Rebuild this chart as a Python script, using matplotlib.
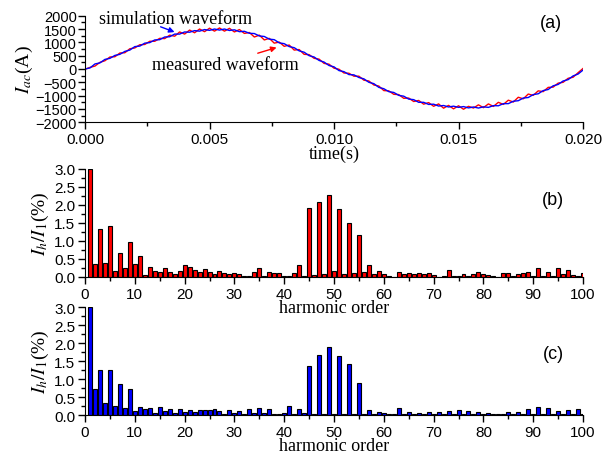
import numpy as np
import matplotlib
matplotlib.use("Agg")
import matplotlib.pyplot as plt
from matplotlib.ticker import MultipleLocator, FormatStrFormatter

plt.rcParams['font.family'] = ['Liberation Sans', 'DejaVu Sans']
plt.rcParams['mathtext.fontset'] = 'stix'

# (a) waveforms, read every 0.2 ms
t = np.linspace(0, 0.02, 101)
i_sim = [0, 40, 190, 230, 360, 400, 510, 550, 660, 710,
         840, 860, 970, 990, 1090, 1100, 1200, 1210, 1310, 1310,
         1390, 1380, 1440, 1420, 1480, 1450, 1500, 1460, 1500, 1445,
         1470, 1400, 1415, 1340, 1330, 1240, 1220, 1120, 1100, 980,
         950, 840, 800, 680, 630, 500, 450, 320, 260, 130,
         80, -60, -100, -210, -220, -320, -370, -500, -550, -690,
         -740, -850, -880, -990, -1020, -1130, -1150, -1250, -1250, -1330,
         -1320, -1390, -1370, -1425, -1395, -1440, -1410, -1460, -1425, -1465,
         -1420, -1440, -1375, -1380, -1300, -1300, -1210, -1190, -1090, -1070,
         -960, -930, -810, -770, -630, -580, -450, -400, -260, -190,
         -40]
i_meas = [-10, 60, 110, 250, 310, 450, 460, 600, 610, 760,
          790, 910, 920, 1040, 1040, 1150, 1140, 1270, 1230, 1390,
          1310, 1460, 1360, 1500, 1400, 1530, 1420, 1540, 1420, 1525,
          1390, 1480, 1335, 1370, 1200, 1270, 1090, 1150, 970, 1010,
          850, 900, 710, 730, 550, 540, 400, 370, 210, 180,
          30, -10, -150, -160, -270, -270, -420, -450, -600, -640,
          -810, -820, -950, -960, -1100, -1090, -1220, -1180, -1320, -1260,
          -1400, -1310, -1470, -1365, -1495, -1380, -1510, -1400, -1465, -1345,
          -1450, -1310, -1405, -1250, -1330, -1170, -1240, -1060, -1120, -940,
          -990, -820, -850, -690, -680, -530, -500, -350, -310, -140,
          20]

# (b), (c) harmonic spectra, orders 1..100
order = np.arange(1, 101)
spec_meas = [3.0, 0.35, 1.32, 0.40, 1.41, 0.17, 0.68, 0.25, 0.98, 0.37,
             0.57, 0.05, 0.29, 0.17, 0.14, 0.24, 0.14, 0.07, 0.16, 0.32,
             0.29, 0.18, 0.15, 0.21, 0.15, 0.09, 0.17, 0.11, 0.07, 0.11,
             0.07, 0.02, 0.03, 0.15, 0.26, 0.02, 0.14, 0.12, 0.12, 0.04,
             0.04, 0.11, 0.32, 0.02, 1.93, 0.06, 2.09, 0.09, 2.28, 0.17,
             1.88, 0.07, 1.49, 0.10, 1.17, 0.13, 0.32, 0.08, 0.16, 0.07,
             0.03, 0.01, 0.15, 0.09, 0.10, 0.09, 0.12, 0.07, 0.11, 0.05,
             0.01, 0.02, 0.20, 0.03, 0.04, 0.07, 0.03, 0.07, 0.13, 0.07,
             0.06, 0.04, 0.01, 0.10, 0.10, 0.02, 0.08, 0.11, 0.13, 0.04,
             0.26, 0.04, 0.14, 0.04, 0.25, 0.08, 0.19, 0.06, 0.04, 0.12]
spec_sim = [3.0, 0.71, 1.26, 0.34, 1.26, 0.25, 0.87, 0.20, 0.73, 0.12,
            0.21, 0.17, 0.19, 0.06, 0.23, 0.12, 0.17, 0.06, 0.18, 0.09,
            0.14, 0.07, 0.14, 0.14, 0.14, 0.17, 0.12, 0.03, 0.13, 0.06,
            0.12, 0.03, 0.16, 0.05, 0.20, 0.05, 0.16, 0.04, 0.04, 0.05,
            0.25, 0.04, 0.18, 0.05, 1.37, 0.03, 1.68, 0.03, 1.90, 0.03,
            1.64, 0.02, 1.43, 0.02, 0.88, 0.02, 0.14, 0.02, 0.09, 0.05,
            0.04, 0.02, 0.19, 0.02, 0.09, 0.02, 0.06, 0.02, 0.09, 0.02,
            0.08, 0.02, 0.12, 0.02, 0.13, 0.02, 0.12, 0.02, 0.08, 0.02,
            0.06, 0.02, 0.04, 0.02, 0.09, 0.02, 0.09, 0.02, 0.16, 0.02,
            0.23, 0.02, 0.20, 0.02, 0.10, 0.02, 0.13, 0.02, 0.17, 0.02]

serif = 'Liberation Serif'

fig = plt.figure(figsize=(6.13, 4.56), dpi=100)
ax_a = fig.add_axes([0.1387, 0.7296, 0.8124, 0.2338])
ax_b = fig.add_axes([0.1387, 0.3904, 0.8124, 0.2368])
ax_c = fig.add_axes([0.1387, 0.0877, 0.8124, 0.2368])

def style(ax):
    ax.set_facecolor('none')
    for s in ['top', 'right']:
        ax.spines[s].set_visible(False)
    ax.tick_params(which='major', direction='out', length=5, width=1, labelsize=11, pad=2)
    ax.tick_params(which='minor', direction='out', length=3, width=1)

# waveform panel
ax_a.plot(t, i_meas, color='red', lw=1)
ax_a.plot(t, i_sim, color='blue', lw=1)
ax_a.set_xlim(0, 0.02)
ax_a.set_ylim(-2000, 2000)
ax_a.xaxis.set_major_locator(MultipleLocator(0.005))
ax_a.xaxis.set_minor_locator(MultipleLocator(0.0025))
ax_a.xaxis.set_major_formatter(FormatStrFormatter('%.3f'))
ax_a.yaxis.set_major_locator(MultipleLocator(500))
ax_a.yaxis.set_minor_locator(MultipleLocator(250))
style(ax_a)
ax_a.tick_params(axis='y', labelsize=10.5, pad=1)
ax_a.set_xlabel('time(s)', family=serif, fontsize=13, labelpad=-1)
ax_a.set_ylabel(r'$I_{ac}$(A)', family=serif, fontsize=14, labelpad=0)
ax_a.text(0.936, 0.935, '(a)', transform=ax_a.transAxes, ha='center', va='center', fontsize=13)
ax_a.annotate('simulation waveform', xy=(0.0037, 1350), xytext=(0.00363, 1880),
              ha='center', va='center', family=serif, fontsize=13)
ax_a.annotate('', xy=(0.0037, 1350), xytext=(0.00293, 1620),
              arrowprops=dict(arrowstyle='-|>', color='blue', lw=1, mutation_scale=8))
ax_a.text(0.00562, 170, 'measured waveform', ha='center', va='center', family=serif, fontsize=13)
ax_a.annotate('', xy=(0.0078, 836), xytext=(0.00683, 562),
              arrowprops=dict(arrowstyle='-|>', color='red', lw=1, mutation_scale=8))

# spectrum panels
for ax, vals, col, lab, ly in [(ax_b, spec_meas, 'red', '(b)', 0.72),
                               (ax_c, spec_sim, 'blue', '(c)', 0.565)]:
    ax.bar(order, vals, width=0.8, color=col, edgecolor='black', linewidth=0.8)
    ax.set_xlim(0, 100)
    ax.set_ylim(0, 3.0)
    ax.xaxis.set_major_locator(MultipleLocator(10))
    ax.xaxis.set_minor_locator(MultipleLocator(5))
    ax.yaxis.set_major_locator(MultipleLocator(0.5))
    ax.yaxis.set_minor_locator(MultipleLocator(0.25))
    ax.yaxis.set_major_formatter(FormatStrFormatter('%.1f'))
    style(ax)
    ax.set_xlabel('harmonic order', family=serif, fontsize=13, labelpad=-1)
    ax.set_ylabel(r'$I_h/I_1$(%)', family=serif, fontsize=14, labelpad=2)
    ax.text(0.94, ly, lab, transform=ax.transAxes, ha='center', va='center', fontsize=13)

fig.savefig('out.png', dpi=100)
